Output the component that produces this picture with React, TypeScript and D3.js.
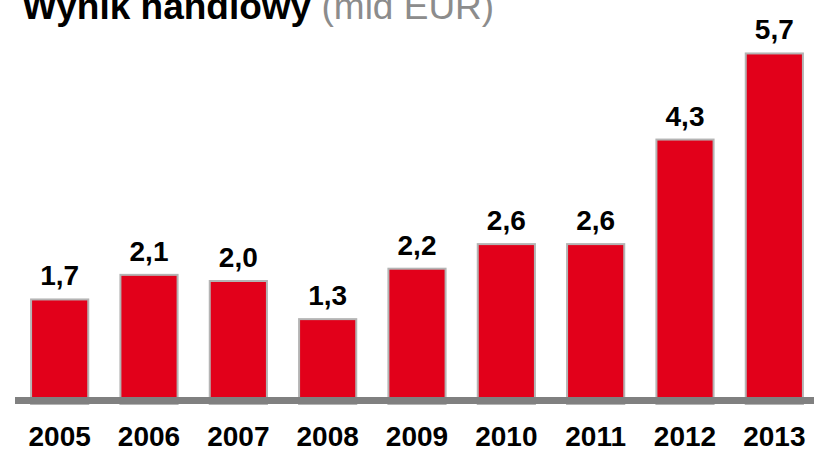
import React from "react";
import * as d3 from "d3";

const years = ["2005", "2006", "2007", "2008", "2009", "2010", "2011", "2012", "2013"];
const values = [1.7, 2.1, 2.0, 1.38, 2.2, 2.6, 2.6, 4.3, 5.7];
const labels = ["1,7", "2,1", "2,0", "1,3", "2,2", "2,6", "2,6", "4,3", "5,7"];

const W = 814;
const H = 450;

export default function App() {
  const x = d3.scaleBand<string>().domain(years).range([15, 819]).paddingInner(0.36).paddingOuter(0.18);
  const y = d3.scaleLinear().domain([0, 6]).range([404, 35]);
  const font = "Arial, 'Liberation Sans', Helvetica, sans-serif";
  return (
    <div style={{ position: "absolute", left: 0, top: 0 }}>
      <svg width={W} height={H} style={{ display: "block", background: "#fff" }}>
        <text x={22} y={19} fontFamily={font} fontSize={37}>
          <tspan fontWeight="bold" fill="#000">Wynik handlowy</tspan>
          <tspan fill="#8c8c8c"> (mld EUR)</tspan>
        </text>
        {years.map((yr, i) => (
          <g key={yr}>
            <rect
              x={x(yr)!}
              y={y(values[i])}
              width={x.bandwidth()}
              height={y(0) - y(values[i])}
              fill="#E2001A"
              stroke="#b4b4b4"
              strokeWidth={2}
            />
            <text
              x={x(yr)! + x.bandwidth() / 2}
              y={y(values[i]) - 14}
              textAnchor="middle"
              fontFamily={font}
              fontWeight="bold"
              fontSize={28}
              fill="#000"
            >
              {labels[i]}
            </text>
            <text
              x={x(yr)! + x.bandwidth() / 2}
              y={446}
              textAnchor="middle"
              fontFamily={font}
              fontWeight="bold"
              fontSize={28}
              fill="#000"
            >
              {yr}
            </text>
          </g>
        ))}
        <rect x={15} y={397} width={W - 15} height={7} fill="#808080" />
      </svg>
    </div>
  );
}
